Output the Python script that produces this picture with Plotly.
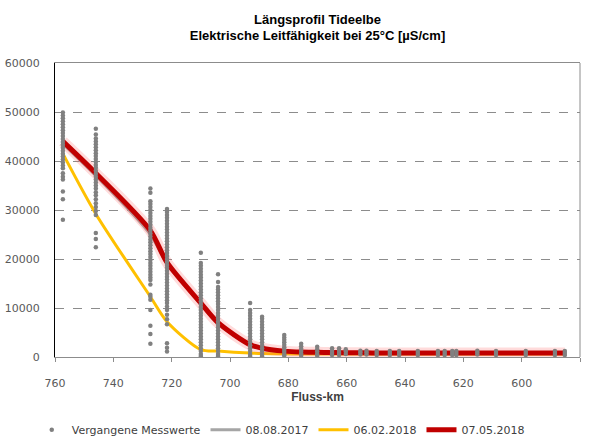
import plotly.graph_objects as go

# Measurement stations (Fluss-km)
station_km = [757.3, 746.0, 727.3, 721.6, 710.0, 704.1, 693.1, 689.0, 681.4, 675.6,
              670.1, 665.0, 662.6, 660.3, 655.3, 653.2, 649.7, 645.2, 642.0, 635.6,
              628.7, 626.4, 623.8, 622.4, 615.2, 608.8, 598.6, 588.6, 585.2]

# Past measurements (Vergangene Messwerte) per station, µS/cm
past_values = [
    [49900, 49300, 48700, 48100, 47500, 46900, 46300, 45700, 45100, 44500, 43900, 43300, 42700,
     42100, 41500, 40900, 40300, 39700, 39100, 38500, 37500, 36800, 36200, 33800, 32200, 28000],
    [46600, 45400, 44600, 44000, 43400, 42800, 42200, 41600, 41000, 40400, 39800, 39200, 38600,
     38000, 37400, 36800, 36200, 35600, 35000, 34400, 33600, 33000, 32200, 31400, 30600, 29800,
     29000, 25300, 24100, 22400],
    [34400, 33500, 31800, 31200, 30600, 30000, 29400, 28800, 28200, 27600, 27000, 26400, 25800,
     25200, 24600, 24000, 23400, 22800, 22200, 21600, 21000, 20400, 19800, 19200, 18600, 18000,
     17400, 16800, 16200, 15700, 14800, 12700, 12300, 11700, 9600, 6400, 4700, 2700],
    [30200, 29600, 29000, 28400, 27800, 27200, 26600, 26000, 25400, 24800, 24200, 23600, 23000,
     22400, 21800, 21200, 20600, 20000, 19400, 18800, 18200, 17600, 17000, 16400, 15800, 15200,
     14600, 14000, 13400, 12800, 12200, 11600, 11000, 10300, 9600, 8600, 7700, 6700, 2800, 1900, 1100],
    [21300, 19200, 18600, 18000, 17400, 16800, 16200, 15600, 15000, 14400, 13800, 13200, 12600,
     12000, 11400, 10800, 10200, 9600, 9000, 8400, 7800, 7200, 6600, 6000, 5400, 4800, 4200,
     3600, 3000, 2400, 1800, 1200, 600, 200],
    [16900, 15300, 14300, 13800, 13200, 12600, 12000, 11400, 10800, 10200, 9600, 9000, 8400,
     7800, 7200, 6600, 6000, 5400, 4800, 4200, 3600, 3000, 2400, 1800, 1200, 600, 200],
    [11000, 9600, 9000, 8400, 7800, 7200, 6600, 6000, 5400, 4800, 4200, 3600, 3000, 2400, 1800,
     1200, 600, 200],
    [8200, 7800, 7200, 6600, 6000, 5400, 4800, 4200, 3600, 3000, 2400, 1800, 1200, 600, 200],
    [4500, 4000, 3500, 3000, 2500, 2000, 1500, 1000, 500, 300],
    [2700, 2200, 1700, 1200, 700, 300],
    [2100, 1600, 1100, 600, 300],
    [1800, 1300, 800, 400],
    [1800, 1300, 800, 400],
    [1600, 1100, 600],
    [1300, 900, 500],
    [1300, 900, 500],
    [1200, 800, 400],
    [1200, 800, 400],
    [1200, 800, 400],
    [1200, 800, 400],
    [1200, 800, 400],
    [1200, 800, 400],
    [1200, 800, 400],
    [1200, 800, 400],
    [1300, 900, 500],
    [1200, 800, 400],
    [1200, 800, 400],
    [1200, 800, 400],
    [1200, 800, 400],
]

# Longitudinal profiles per date, values at the stations
profile_2017_08_08 = [43500, 37000, 25000, 19000, 10800, 6800, 2400, 1700, 1150, 950,
                      900, 850, 850, 830, 800, 800, 780, 780, 780, 780,
                      780, 780, 780, 780, 780, 780, 780, 780, 780]
profile_2018_02_06 = [41500, 29200, 12300, 7200, 1500, 1200, 800, 700, 650, 600,
                      600, 600, 600, 600, 600, 600, 600, 600, 600, 600,
                      600, 600, 600, 600, 600, 600, 600, 600, 600]
profile_2018_05_07 = [44000, 37500, 25800, 19300, 11000, 7000, 2500, 1800, 1200, 1000,
                      950, 900, 900, 880, 850, 850, 800, 800, 800, 800,
                      800, 800, 800, 800, 800, 800, 800, 800, 800]

x_ticks = [760, 740, 720, 700, 680, 660, 640, 620, 600, 580]
y_ticks = [0, 10000, 20000, 30000, 40000, 50000, 60000]

past_x, past_y = [], []
for km, vals in zip(station_km, past_values):
    for v in vals:
        past_x.append(km)
        past_y.append(v)

fig = go.Figure()

fig.add_trace(go.Scatter(x=station_km, y=profile_2017_08_08, mode="lines", name="08.08.2017",
                         line=dict(color="#A5A5A5", width=3, shape="spline", smoothing=0.8),
                         legendrank=2))
fig.add_trace(go.Scatter(x=station_km, y=profile_2018_02_06, mode="lines", name="06.02.2018",
                         line=dict(color="#FFC000", width=3, shape="spline", smoothing=0.8),
                         legendrank=3))
fig.add_trace(go.Scatter(x=station_km, y=profile_2018_05_07, mode="lines", name="07.05.2018 glow",
                         line=dict(color="rgba(255,90,90,0.22)", width=11, shape="spline", smoothing=0.8),
                         showlegend=False, hoverinfo="skip"))
fig.add_trace(go.Scatter(x=station_km, y=profile_2018_05_07, mode="lines", name="07.05.2018",
                         line=dict(color="#C00000", width=5, shape="spline", smoothing=0.8),
                         legendrank=4))
fig.add_trace(go.Scatter(x=past_x, y=past_y, mode="markers", name="Vergangene Messwerte",
                         marker=dict(color="#808080", size=4.5), legendrank=1))

fig.add_shape(type="line", xref="paper", yref="paper", x0=1, x1=1, y0=0, y1=1,
              line=dict(color="#8C8C8C", width=1))

fig.update_layout(
    width=589, height=437,
    margin=dict(l=55, r=9, t=63, b=80, autoexpand=False),
    paper_bgcolor="white", plot_bgcolor="white",
    title=dict(text="<b>Längsprofil Tideelbe<br>Elektrische Leitfähigkeit bei 25°C [µS/cm]</b>",
               x=0.5, xref="paper", xanchor="center", yref="container", y=0.946, yanchor="middle",
               font=dict(family="Liberation Sans", size=13, color="#000000")),
    font=dict(family="DejaVu Sans", size=11, color="#595959"),
    showlegend=True,
    legend=dict(orientation="h", x=0.43, xanchor="center", y=-0.198, yanchor="top",
                font=dict(family="DejaVu Sans", size=11, color="#404040"),
                itemwidth=30, tracegroupgap=0),
    xaxis=dict(range=[760, 580], tickvals=x_ticks, ticks="outside", ticklen=4,
               tickcolor="#8C8C8C", showline=True, linecolor="#8C8C8C", mirror=True,
               showgrid=False, zeroline=False, ticklabelstandoff=12, automargin=False,
               tickfont=dict(family="DejaVu Sans", size=11, color="#595959"),
               title=dict(text="<b>Fluss-km</b>", standoff=3,
                          font=dict(family="Liberation Sans", size=12, color="#404040"))),
    yaxis=dict(range=[0, 60000], tickvals=y_ticks, tickformat="d", showline=True,
               linecolor="#000000", automargin=False,
               showgrid=True, gridcolor="#8C8C8C", griddash="dash", gridwidth=1,
               zeroline=False, ticks="", ticklabelstandoff=12,
               tickfont=dict(family="DejaVu Sans", size=11, color="#595959")),
)

fig.write_html("out.html", config={"displayModeBar": False},
               post_script="document.body.style.margin='0';")
